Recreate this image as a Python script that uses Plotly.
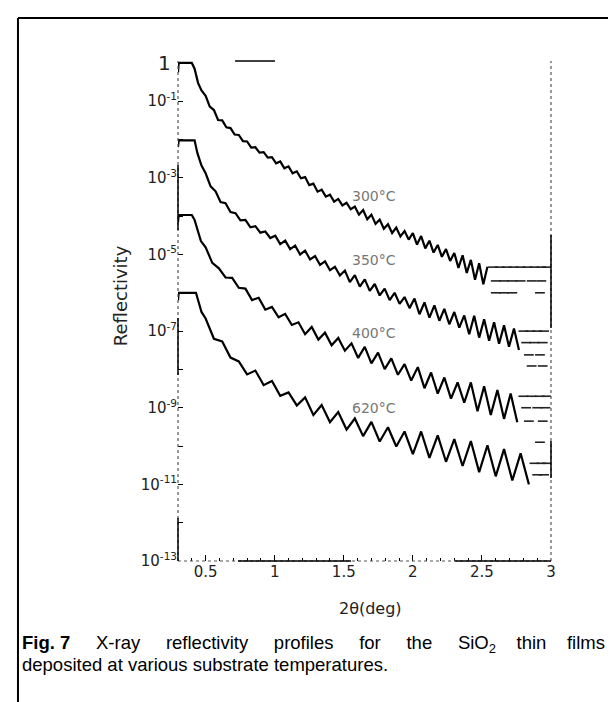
import plotly.graph_objects as go

# ---------------- data ----------------
labels = ["300°C", "350°C", "400°C", "620°C"]

two_theta_300 = [0.30, 0.305, 0.40, 0.42, 0.445, 0.47, 0.50, 0.53, 0.56, 0.59, 0.62, 0.65, 0.68, 0.71, 0.74, 0.77,
                 0.80, 0.83, 0.86, 0.89, 0.92, 0.95, 0.98, 1.01, 1.04, 1.07, 1.10, 1.13, 1.16, 1.19, 1.22, 1.25,
                 1.28, 1.31, 1.34, 1.37, 1.40, 1.43, 1.46, 1.49, 1.52, 1.55, 1.58, 1.61, 1.64, 1.67, 1.70, 1.73,
                 1.76, 1.79, 1.82, 1.85, 1.88, 1.91, 1.94, 1.97, 2.00, 2.03, 2.06, 2.09, 2.12, 2.15, 2.18, 2.21,
                 2.24, 2.27, 2.30, 2.33, 2.36, 2.39, 2.42, 2.45, 2.48, 2.51, 2.54]
log_r_300 = [-0.25, 0, 0, -0.15, -0.52, -0.72, -0.86, -1.14, -1.23, -1.49, -1.50, -1.68, -1.70, -1.87, -1.88, -2.04,
             -2.05, -2.21, -2.20, -2.34, -2.33, -2.47, -2.46, -2.62, -2.57, -2.75, -2.70, -2.88, -2.83, -3.01, -2.98, -3.19,
             -3.15, -3.36, -3.31, -3.49, -3.44, -3.62, -3.55, -3.72, -3.65, -3.82, -3.75, -3.96, -3.84, -4.08, -3.96, -4.20,
             -4.09, -4.33, -4.21, -4.44, -4.30, -4.53, -4.39, -4.61, -4.44, -4.74, -4.52, -4.84, -4.64, -4.95, -4.75, -5.06,
             -4.86, -5.17, -4.96, -5.35, -5.02, -5.48, -5.14, -5.66, -5.23, -5.78, -5.32]

two_theta_350 = [0.30, 0.305, 0.42, 0.44, 0.47, 0.500, 0.536, 0.572, 0.608, 0.644, 0.680, 0.716, 0.752, 0.788, 0.824,
                 0.860, 0.896, 0.932, 0.968, 1.004, 1.040, 1.076, 1.112, 1.148, 1.184, 1.220, 1.256, 1.292, 1.328,
                 1.364, 1.400, 1.436, 1.472, 1.508, 1.544, 1.580, 1.616, 1.652, 1.688, 1.724, 1.760, 1.796, 1.832,
                 1.868, 1.904, 1.940, 1.976, 2.012, 2.048, 2.084, 2.120, 2.156, 2.192, 2.228, 2.264, 2.300, 2.336,
                 2.372, 2.408, 2.444, 2.480, 2.516, 2.552, 2.588, 2.624, 2.660, 2.696, 2.732, 2.768]
log_r_350 = [-2.2, -2.02, -2.02, -2.35, -2.68, -2.88, -3.22, -3.35, -3.63, -3.66, -3.89, -3.92, -4.11, -4.10, -4.29,
             -4.26, -4.43, -4.40, -4.57, -4.51, -4.73, -4.64, -4.86, -4.77, -5.00, -4.90, -5.13, -5.04, -5.27,
             -5.18, -5.41, -5.32, -5.55, -5.42, -5.72, -5.54, -5.84, -5.65, -5.95, -5.77, -6.07, -5.89, -6.19,
             -6.00, -6.29, -6.11, -6.40, -6.15, -6.56, -6.25, -6.65, -6.33, -6.73, -6.42, -6.82, -6.50, -6.91,
             -6.59, -7.08, -6.60, -7.17, -6.69, -7.25, -6.77, -7.33, -6.85, -7.41, -6.93, -7.49]

two_theta_400 = [0.30, 0.305, 0.40, 0.42, 0.445, 0.466, 0.500, 0.548, 0.596, 0.644, 0.692, 0.740, 0.788, 0.836,
                 0.884, 0.932, 0.980, 1.028, 1.076, 1.124, 1.172, 1.220, 1.268, 1.316, 1.364, 1.412, 1.460, 1.508,
                 1.556, 1.604, 1.652, 1.700, 1.748, 1.796, 1.844, 1.892, 1.940, 1.988, 2.036, 2.084, 2.132, 2.180,
                 2.228, 2.276, 2.324, 2.372, 2.420, 2.468, 2.516, 2.564, 2.612, 2.660, 2.708, 2.756]
log_r_400 = [-4.15, -3.97, -3.97, -4.10, -4.40, -4.65, -4.81, -5.22, -5.36, -5.60, -5.61, -5.87, -5.89, -6.19,
             -6.13, -6.44, -6.37, -6.64, -6.55, -6.84, -6.77, -7.08, -6.89, -7.22, -7.04, -7.37, -7.18, -7.51,
             -7.32, -7.70, -7.41, -7.84, -7.56, -7.99, -7.71, -8.14, -7.86, -8.29, -7.94, -8.49, -8.08, -8.63,
             -8.21, -8.76, -8.34, -8.87, -8.34, -9.09, -8.44, -9.19, -8.54, -9.29, -8.63, -9.38]

two_theta_620 = [0.30, 0.305, 0.43, 0.45, 0.47, 0.50, 0.56, 0.62, 0.68, 0.74, 0.80, 0.86, 0.92, 0.98, 1.04, 1.10,
                 1.16, 1.22, 1.28, 1.34, 1.40, 1.46, 1.52, 1.58, 1.64, 1.70, 1.76, 1.82, 1.88, 1.94, 2.00, 2.06,
                 2.12, 2.18, 2.24, 2.30, 2.36, 2.42, 2.48, 2.54, 2.60, 2.66, 2.72, 2.78, 2.84]
log_r_620 = [-6.2, -6.0, -6.0, -6.25, -6.5, -6.67, -7.20, -7.27, -7.69, -7.79, -8.13, -8.03, -8.41, -8.30, -8.69, -8.60,
             -8.94, -8.73, -9.19, -8.93, -9.38, -9.11, -9.57, -9.28, -9.74, -9.37, -9.88, -9.51, -10.01, -9.62, -10.21, -9.62,
             -10.31, -9.72, -10.41, -9.82, -10.52, -9.87, -10.68, -9.98, -10.79, -10.08, -10.90, -10.19, -11.00]

# noisy tail fragments at the high-angle end of each profile
tail_theta_300 = [2.58, 2.63, 2.68, 2.73, 2.78, 2.83, 2.88, 2.93, 2.97, 2.60, 2.66, 2.72, 2.78, 2.86, 2.93, 2.60, 2.66, 2.72, 2.92]
tail_log_300 = [-5.33, -5.33, -5.33, -5.33, -5.33, -5.33, -5.33, -5.33, -5.33, -5.69, -5.69, -5.69, -5.69, -5.69, -5.69, -6.0, -6.0, -6.0, -6.0]
tail_theta_350 = [2.80, 2.85, 2.90, 2.95, 2.82, 2.88, 2.94, 2.84, 2.92, 2.86, 2.94]
tail_log_350 = [-7.0, -7.0, -7.0, -7.0, -7.3, -7.3, -7.3, -7.62, -7.62, -7.91, -7.91]
tail_theta_400 = [2.80, 2.86, 2.92, 2.97, 2.82, 2.90, 2.96, 2.84, 2.94]
tail_log_400 = [-8.7, -8.7, -8.7, -8.7, -9.0, -9.0, -9.0, -9.35, -9.35]
tail_theta_620 = [2.88, 2.93, 2.97, 2.90, 2.95, 2.92]
tail_log_620 = [-10.45, -10.45, -10.45, -10.75, -10.75, -9.9]

label_theta = [1.716, 1.716, 1.716, 1.716]
label_log = [-3.47, -5.14, -7.05, -9.0]

x_tick_vals = [0.5, 1, 1.5, 2, 2.5, 3]
x_tick_text = ["0.5", "1", "1.5", "2", "2.5", "3"]
x_minor_vals = [0.4, 0.6, 0.7, 0.8, 0.9, 1.1, 1.2, 1.3, 1.4, 1.6, 1.7, 1.8, 1.9, 2.1, 2.2, 2.3, 2.4, 2.6, 2.7, 2.8, 2.9]
y_tick_exp = [0, -1, -2, -3, -4, -5, -6, -7, -8, -9, -10, -11, -12, -13]
y_tick_text = ["", "10<sup>-1</sup>", "", "10<sup>-3</sup>", "",
               "10<sup>-5</sup>", "", "10<sup>-7</sup>", "", "10<sup>-9</sup>", "", "10<sup>-11</sup>", "",
               "10<sup>-13</sup>"]
top_tick_label = "1"

caption_words_1 = ["<b>Fig. 7</b>", "X-ray", "reflectivity", "profiles", "for", "the", "SiO<sub>2</sub>", "thin", "films"]
caption_line_2 = "deposited at various substrate temperatures."

curves = [(two_theta_300, log_r_300), (two_theta_350, log_r_350), (two_theta_400, log_r_400), (two_theta_620, log_r_620)]
tails = [(tail_theta_300, tail_log_300), (tail_theta_350, tail_log_350), (tail_theta_400, tail_log_400), (tail_theta_620, tail_log_620)]

fig = go.Figure()
for (xs, ls), name in zip(curves, labels):
    fig.add_trace(go.Scatter(x=xs, y=[10 ** v for v in ls], mode="lines", name=name,
                             line=dict(color="black", width=2.2), showlegend=False))
for (xs, ls), name in zip(tails, labels):
    fig.add_trace(go.Scatter(x=xs, y=[10 ** v for v in ls], mode="markers", name=name + " tail",
                             marker=dict(symbol="line-ew", size=7, line=dict(color="#222222", width=1.6)),
                             showlegend=False))

for tx, ty, t in zip(label_theta, label_log, labels):
    fig.add_annotation(x=tx, y=ty, xref="x", yref="y", text=t, showarrow=False, xanchor="center", yanchor="middle",
                       font=dict(family="DejaVu Sans", size=14, color="#777777"))

# large "1" label at the top decade
fig.add_annotation(x=-0.0375, y=y_tick_exp[0], xref="paper", yref="y", text=top_tick_label, showarrow=False,
                   xanchor="center", yanchor="middle", font=dict(family="DejaVu Sans", size=20, color="#222222"))

# axis titles
fig.add_annotation(x=0.517, y=-0.094, xref="paper", yref="paper", text="2θ(deg)", showarrow=False,
                   xanchor="center", yanchor="middle",
                   font=dict(family="DejaVu Sans", size=16, color="#222222"))
fig.add_annotation(x=-0.155, y=0.53, xref="paper", yref="paper", text="Reflectivity", showarrow=False,
                   xanchor="center", yanchor="middle", textangle=-90,
                   font=dict(family="DejaVu Sans", size=18, color="#222222"))

# caption (first line justified like the printed page)
gaps = [5, 5, 5, 5, 5, 5, 4, 4]
line1 = caption_words_1[0]
for w, g in zip(caption_words_1[1:], gaps):
    line1 += " " + "\u00a0" * (g - 1) + w
fig.add_annotation(x=-0.4236, y=-0.166, xref="paper", yref="paper", xanchor="left", yanchor="middle",
                   text=line1, showarrow=False, font=dict(family="Liberation Sans", size=18.5, color="black"))
fig.add_annotation(x=-0.4236, y=-0.207, xref="paper", yref="paper", xanchor="left", yanchor="middle",
                   text=caption_line_2, showarrow=False,
                   font=dict(family="Liberation Sans", size=18.5, color="black"))

shapes = []
# outer frame (left and top)
shapes.append(dict(type="line", xref="paper", yref="paper", x0=-0.429, x1=-0.429, y0=1.086, y1=-0.31,
                   line=dict(color="black", width=2)))
shapes.append(dict(type="line", xref="paper", yref="paper", x0=-0.429, x1=1.2, y0=1.086, y1=1.086,
                   line=dict(color="black", width=2)))
# faded axis box (dotted) with solid fragments
for (x0, y0, x1, y1) in [(0, 0, 0, 1), (0, 0, 1, 0), (1, 0, 1, 1)]:
    shapes.append(dict(type="line", xref="paper", yref="paper", x0=x0, y0=y0, x1=x1, y1=y1,
                       line=dict(color="#555555", width=1.2, dash="dot")))
for (x0, y0, x1, y1) in [(0, 0.662, 0, 0.792), (0, 0.372, 0, 0.486), (0, 0, 0, 0.086),
                         (0.161, 0, 0.464, 0), (0.743, 0, 1, 0),
                         (1, 0.466, 1, 0.652), (1, 0.166, 1, 0.24), (0.153, 1, 0.26, 1)]:
    shapes.append(dict(type="line", xref="paper", yref="paper", x0=x0, y0=y0, x1=x1, y1=y1,
                       line=dict(color="black", width=1.5)))

fig.update_layout(
    width=616, height=702,
    margin=dict(l=170, r=73, t=53, b=149),
    paper_bgcolor="white", plot_bgcolor="white",
    shapes=shapes,
    xaxis=dict(range=[0.3, 3.0], tickvals=x_tick_vals, ticktext=x_tick_text, ticks="inside", ticklen=6,
               tickcolor="black", showgrid=False, zeroline=False, showline=False,
               tickfont=dict(family="DejaVu Sans", size=15, color="#222222"),
               minor=dict(tickvals=x_minor_vals, ticks="inside", ticklen=3, tickcolor="black")),
    yaxis=dict(type="log", range=[-13, 0.05], tickvals=[10 ** e for e in y_tick_exp], ticktext=y_tick_text,
               ticks="inside", ticklen=5, tickcolor="black", showgrid=False, zeroline=False, showline=False,
               tickfont=dict(family="DejaVu Sans", size=15, color="#222222")),
)

fig.write_html("out.html")
